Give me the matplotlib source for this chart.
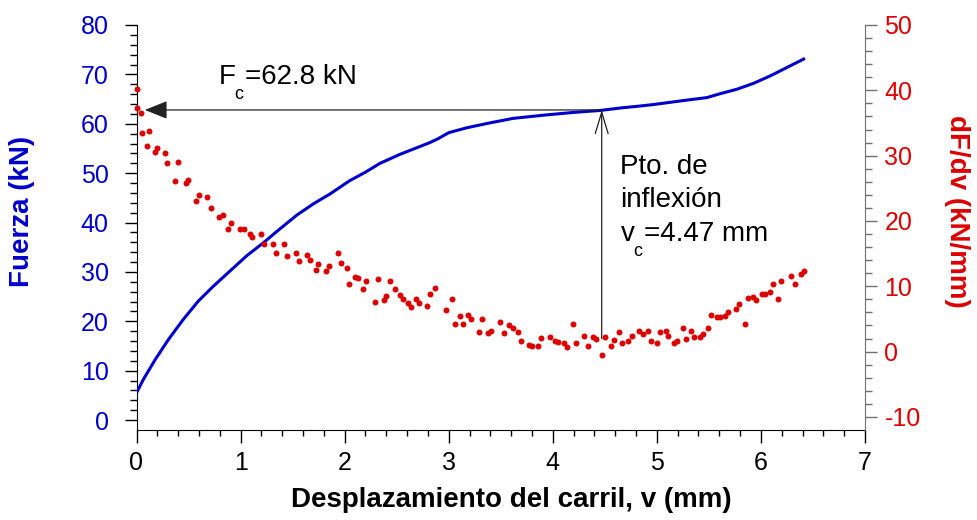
import matplotlib
matplotlib.use('Agg')
import matplotlib.pyplot as plt
from matplotlib.ticker import MultipleLocator, FixedLocator
import numpy as np

plt.rcParams['font.family'] = ['Liberation Sans', 'DejaVu Sans']
plt.rcParams['axes.unicode_minus'] = False

# force curve (left axis)
force_v = [0, 0.065, 0.178, 0.306, 0.45, 0.594, 0.738, 0.899, 1.06, 1.219, 1.348,
           1.54, 1.70, 1.86, 2.05, 2.2, 2.34, 2.53, 2.82, 2.90, 3.0, 3.175, 3.40,
           3.62, 3.94, 4.2, 4.457, 4.65, 4.84, 4.97, 5.29, 5.48, 5.61, 5.77, 5.93,
           6.09, 6.25, 6.41]
force = [5.5, 8.2, 12.2, 16.3, 20.4, 24.1, 27.1, 30.2, 33.3, 35.9, 38.2,
         41.5, 43.8, 45.8, 48.5, 50.2, 52.0, 53.8, 56.2, 57.0, 58.2, 59.2, 60.2,
         61.1, 61.8, 62.3, 62.7, 63.2, 63.6, 63.9, 64.8, 65.3, 66.1, 67.0, 68.2,
         69.7, 71.4, 73.1]

# derivative dF/dv (right axis)
deriv_v = [0.0, 0.008, 0.04, 0.053, 0.10, 0.12, 0.178, 0.20, 0.271, 0.296, 0.367,
           0.396, 0.473, 0.498, 0.572, 0.604, 0.681, 0.713, 0.796, 0.832, 0.883,
           0.912, 0.995, 1.034, 1.091, 1.113, 1.194, 1.229, 1.31, 1.341, 1.418,
           1.444, 1.531, 1.566, 1.636, 1.668, 1.72, 1.745, 1.819, 1.848, 1.935,
           1.966, 2.024, 2.046, 2.10, 2.127, 2.178, 2.204, 2.29, 2.325, 2.38,
           2.40, 2.44, 2.483, 2.534, 2.56, 2.613, 2.636, 2.69, 2.716, 2.79,
           2.822, 2.87, 2.973, 3.027, 3.056, 3.104, 3.133, 3.188, 3.216, 3.29,
           3.32, 3.373, 3.402, 3.489, 3.531, 3.582, 3.614, 3.668, 3.694, 3.768,
           3.80, 3.858, 3.887, 3.97, 4.02, 4.05, 4.11, 4.14, 4.194, 4.223,
           4.30, 4.335, 4.386, 4.418, 4.476, 4.50, 4.556, 4.585, 4.636, 4.668,
           4.726, 4.758, 4.832, 4.863, 4.915, 4.944, 4.998, 5.027, 5.088, 5.11,
           5.168, 5.194, 5.248, 5.277, 5.329, 5.36, 5.418, 5.44, 5.495, 5.517,
           5.575, 5.604, 5.656, 5.685, 5.758, 5.793, 5.848, 5.873, 5.925, 5.957,
           6.008, 6.04, 6.085, 6.117, 6.168, 6.194, 6.293, 6.325, 6.383, 6.41]
deriv = [40.2, 37.3, 36.6, 33.5, 31.5, 33.8, 30.6, 31.1, 30.4, 28.9, 26.1,
         29.0, 25.8, 26.2, 23.1, 24.0, 23.6, 22.0, 20.6, 20.9, 18.8,
         19.7, 18.8, 18.8, 18.0, 17.6, 18.0, 16.5, 16.5, 15.1, 16.5,
         14.6, 15.05, 13.8, 14.75, 14.0, 12.45, 13.4, 12.3, 13.05, 15.1,
         13.5, 12.8, 10.35, 11.4, 11.2, 9.6, 10.8, 7.6, 11.1, 7.95,
         8.55, 10.85, 9.6, 8.6, 8.0, 7.45, 6.8, 8.05, 7.4, 7.0,
         8.8, 9.75, 6.4, 8.0, 4.3, 5.45, 4.2, 5.6, 5.05, 2.95,
         5.05, 2.8, 3.2, 4.6, 2.9, 4.1, 3.55, 2.95, 1.6, 1.0,
         0.9, 0.85, 2.05, 2.2, 1.7, 1.45, 1.3, 0.65, 4.2, 1.3,
         2.45, 0.85, 2.2, 1.9, -0.5, 2.2, 0.9, 1.8, 3.05, 1.3,
         1.6, 2.35, 3.1, 2.7, 3.2, 1.6, 1.35, 3.0, 3.2, 2.35,
         1.3, 1.7, 3.55, 2.0, 3.1, 2.2, 2.25, 2.65, 3.55, 5.55,
         5.35, 5.25, 5.5, 6.05, 6.5, 7.25, 4.2, 8.2, 8.4, 7.85,
         8.75, 8.75, 9.15, 10.4, 8.05, 10.85, 11.6, 10.4, 11.85, 12.4]

v_c = 4.47
F_c = 62.8

blue = '#0000cc'
red = '#dd0000'
dark = '#222222'

fig = plt.figure(figsize=(9.77, 5.2), dpi=100)
ax = fig.add_axes([136.5 / 977, 90 / 520, 728.5 / 977, 405 / 520])
ax2 = ax.twinx()

ax.plot(force_v, force, color=blue, lw=2.2, zorder=3)
ax2.plot(deriv_v, deriv, 'o', ms=4.3, color=red, mec='none', clip_on=False, zorder=4)

ax.set_xlim(0, 7)
ax.set_ylim(-2, 80)
ax2.set_ylim(-12, 50)

# arrows
ax.annotate('', xy=(0.08, F_c), xytext=(v_c, F_c),
            arrowprops=dict(arrowstyle='-|>,head_length=1.0,head_width=0.4',
                            mutation_scale=14, color=dark, lw=0.9,
                            shrinkA=0, shrinkB=0))
ax.annotate('', xy=(v_c, F_c), xytext=(v_c, 16.5),
            arrowprops=dict(arrowstyle='->,head_length=1.1,head_width=0.33',
                            mutation_scale=14, color=dark, lw=0.9,
                            shrinkA=0, shrinkB=0))


# text with a lowered subscript, built from three pieces
def sub_text(x, y, main, sub, rest, dx_sub, dx_rest):
    ax.text(x, y, main, fontsize=20, va='baseline')
    ax.annotate(sub, xy=(x, y), xytext=(dx_sub, -10.5), textcoords='offset points',
                fontsize=13, va='baseline')
    ax.annotate(rest, xy=(x, y), xytext=(dx_rest, 0), textcoords='offset points',
                fontsize=20, va='baseline')


sub_text(0.79, 68.0, 'F', 'c', '=62.8 kN', 11.5, 18.7)
ax.text(4.65, 49.8, 'Pto. de', fontsize=20, va='baseline')
ax.text(4.65, 43.1, 'inflexión', fontsize=20, va='baseline')
sub_text(4.65, 36.2, 'v', 'c', '=4.47 mm', 9.4, 17.3)

# spines
ax.spines['top'].set_visible(False)
ax.spines['right'].set_visible(False)
for s in ['top', 'left', 'bottom']:
    ax2.spines[s].set_visible(False)
ax2.spines['right'].set_color('#707070')

# ticks
ax.xaxis.set_major_locator(MultipleLocator(1))
ax.xaxis.set_minor_locator(FixedLocator(np.arange(0, 7.01, 0.2)))
ax.yaxis.set_major_locator(FixedLocator(np.arange(0, 81, 10)))
ax.yaxis.set_minor_locator(FixedLocator(np.arange(0, 81, 2)))
ax2.yaxis.set_major_locator(FixedLocator(np.arange(-10, 51, 10)))
ax2.yaxis.set_minor_locator(FixedLocator(np.arange(-10, 51, 2)))

ax.tick_params(axis='x', which='major', direction='out', length=9, width=1,
               labelsize=18, pad=6)
ax.tick_params(axis='x', which='minor', direction='out', length=4.5, width=1)
ax.tick_params(axis='y', which='major', direction='out', length=9, width=1,
               labelsize=18, labelcolor=blue, pad=11)
ax.tick_params(axis='y', which='minor', direction='out', length=4.8, width=1)
ax2.tick_params(axis='y', which='major', direction='out', length=8.5, width=1,
                color='#707070', labelsize=18, labelcolor=red, pad=5.5)
ax2.tick_params(axis='y', which='minor', direction='out', length=5, width=1,
                color='#707070')

# axis labels
ax.set_xlabel('Desplazamiento del carril, v (mm)', fontsize=20, fontweight='bold')
ax.xaxis.set_label_coords(0.514, -0.173)
ax.xaxis.label.set_va('center')
ax.set_ylabel('Fuerza (kN)', fontsize=20, fontweight='bold', color=blue)
ax.yaxis.set_label_coords(-0.157, 0.54)
ax.yaxis.label.set_va('center')
ax2.set_ylabel('dF/dv (kN/mm)', fontsize=20, fontweight='bold', color=red,
               rotation=270)
ax2.yaxis.set_label_coords(1.126, 0.54)
ax2.yaxis.label.set_va('center')

fig.savefig('out.png', dpi=100)
